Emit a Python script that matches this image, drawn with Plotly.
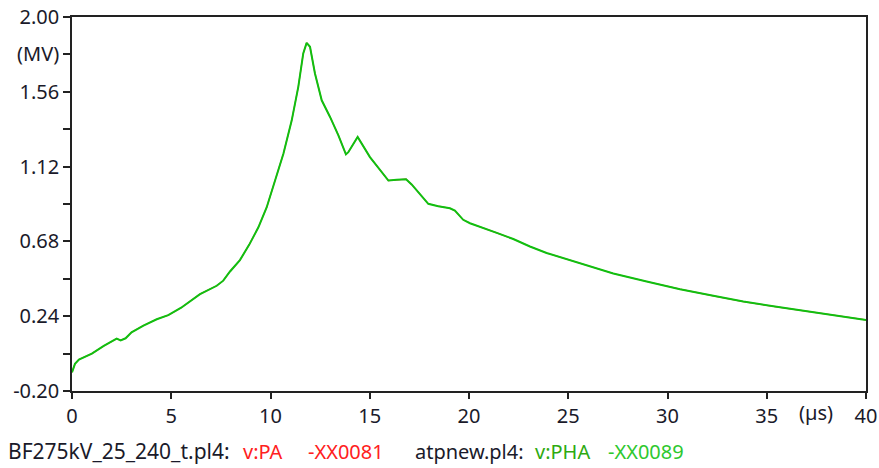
import plotly.graph_objects as go

# time in microseconds, voltage in MV
t_us = [0.0, 0.15, 0.35, 1.0, 1.6, 2.08, 2.25, 2.45, 2.7, 3.0, 3.6, 4.27, 4.85, 5.5,
        6.11, 6.45, 7.29, 7.62, 7.96, 8.46, 8.93, 9.39, 9.81, 10.14, 10.65, 11.07,
        11.40, 11.65, 11.82, 11.99, 12.24, 12.58, 13.0, 13.42, 13.80, 13.92, 14.39,
        15.01, 15.52, 15.94, 16.36, 16.83, 17.11, 17.53, 17.95, 18.45, 19.04, 19.29,
        19.71, 20.05, 20.55, 21.40, 22.23, 23.07, 23.91, 25.59, 27.27, 28.95, 30.63,
        32.31, 33.82, 35.50, 37.18, 38.86, 40.0]
v_pha = [-0.09, -0.04, -0.015, 0.02, 0.065, 0.10, 0.108, 0.098, 0.11, 0.145, 0.185,
         0.222, 0.246, 0.29, 0.340, 0.370, 0.419, 0.449, 0.503, 0.570, 0.661, 0.763,
         0.881, 1.0, 1.196, 1.392, 1.589, 1.786, 1.848, 1.825, 1.668, 1.510, 1.412,
         1.304, 1.192, 1.205, 1.294, 1.176, 1.097, 1.038, 1.042, 1.046, 1.015, 0.960,
         0.901, 0.887, 0.875, 0.861, 0.807, 0.787, 0.767, 0.730, 0.694, 0.650, 0.612,
         0.550, 0.491, 0.444, 0.399, 0.360, 0.326, 0.295, 0.265, 0.238, 0.218]
v_pa = list(v_pha)

y_tickvals = [-0.20, 0.02, 0.24, 0.46, 0.68, 0.90, 1.12, 1.34, 1.56, 1.78, 2.00]
y_ticktext = ["-0.20", "", "0.24", "", "0.68", "", "1.12", "", "1.56", "(MV)", "2.00"]
x_tickvals = [0, 5, 10, 15, 20, 25, 30, 35, 40]
x_ticktext = ["0", "5", "10", "15", "20", "25", "30", "35", "40"]

FONT = "Noto Sans"
FS = 20
TXT = "#1a1a2a"

fig = go.Figure()
fig.add_trace(go.Scatter(x=t_us, y=v_pa, mode="lines",
                         line=dict(color="#ff2020", width=1.2), showlegend=False))
fig.add_trace(go.Scatter(x=t_us, y=v_pha, mode="lines",
                         line=dict(color="#10c010", width=2), showlegend=False))

fig.update_layout(
    width=879, height=468,
    margin=dict(l=72, r=13, t=17, b=77, autoexpand=False),
    paper_bgcolor="white", plot_bgcolor="white",
    font=dict(family=FONT, size=FS, color=TXT),
    xaxis=dict(range=[0, 40], tickvals=x_tickvals, ticktext=x_ticktext,
               showgrid=False, zeroline=False, showline=True, linecolor="#222",
               linewidth=1.5, mirror=True, ticks="outside", ticklen=6,
               tickcolor="#222", tickwidth=1.5, automargin=False),
    yaxis=dict(range=[-0.20, 2.00], tickvals=y_tickvals, ticktext=y_ticktext,
               showgrid=False, zeroline=False, showline=True, linecolor="#222",
               linewidth=1.5, mirror=True, ticks="outside", ticklen=7,
               tickcolor="#222", tickwidth=1.5, automargin=False),
)

fig.add_annotation(x=37.5, xref="x", y=0, yref="paper", yshift=-21, yanchor="middle",
                   text="(µs)", showarrow=False, font=dict(family=FONT, size=FS, color=TXT))

legend_items = [
    (8, "BF275kV_25_240_t.pl4:", TXT, 21),
    (243, "v:PA", "#ff2020", FS),
    (308, "-XX0081", "#ff2020", FS),
    (415, "atpnew.pl4:", TXT, FS),
    (535, "v:PHA", "#2eaa10", FS),
    (608, "-XX0089", "#2ec82e", FS),
]
for px, txt, col, fs in legend_items:
    fig.add_annotation(x=(px - 72) / 794, xref="paper", y=(391 - 451) / 374, yref="paper",
                       xanchor="left", yanchor="middle", text=txt, showarrow=False,
                       xshift=-2, font=dict(family=FONT, size=fs, color=col))

fig.write_html("out.html")
